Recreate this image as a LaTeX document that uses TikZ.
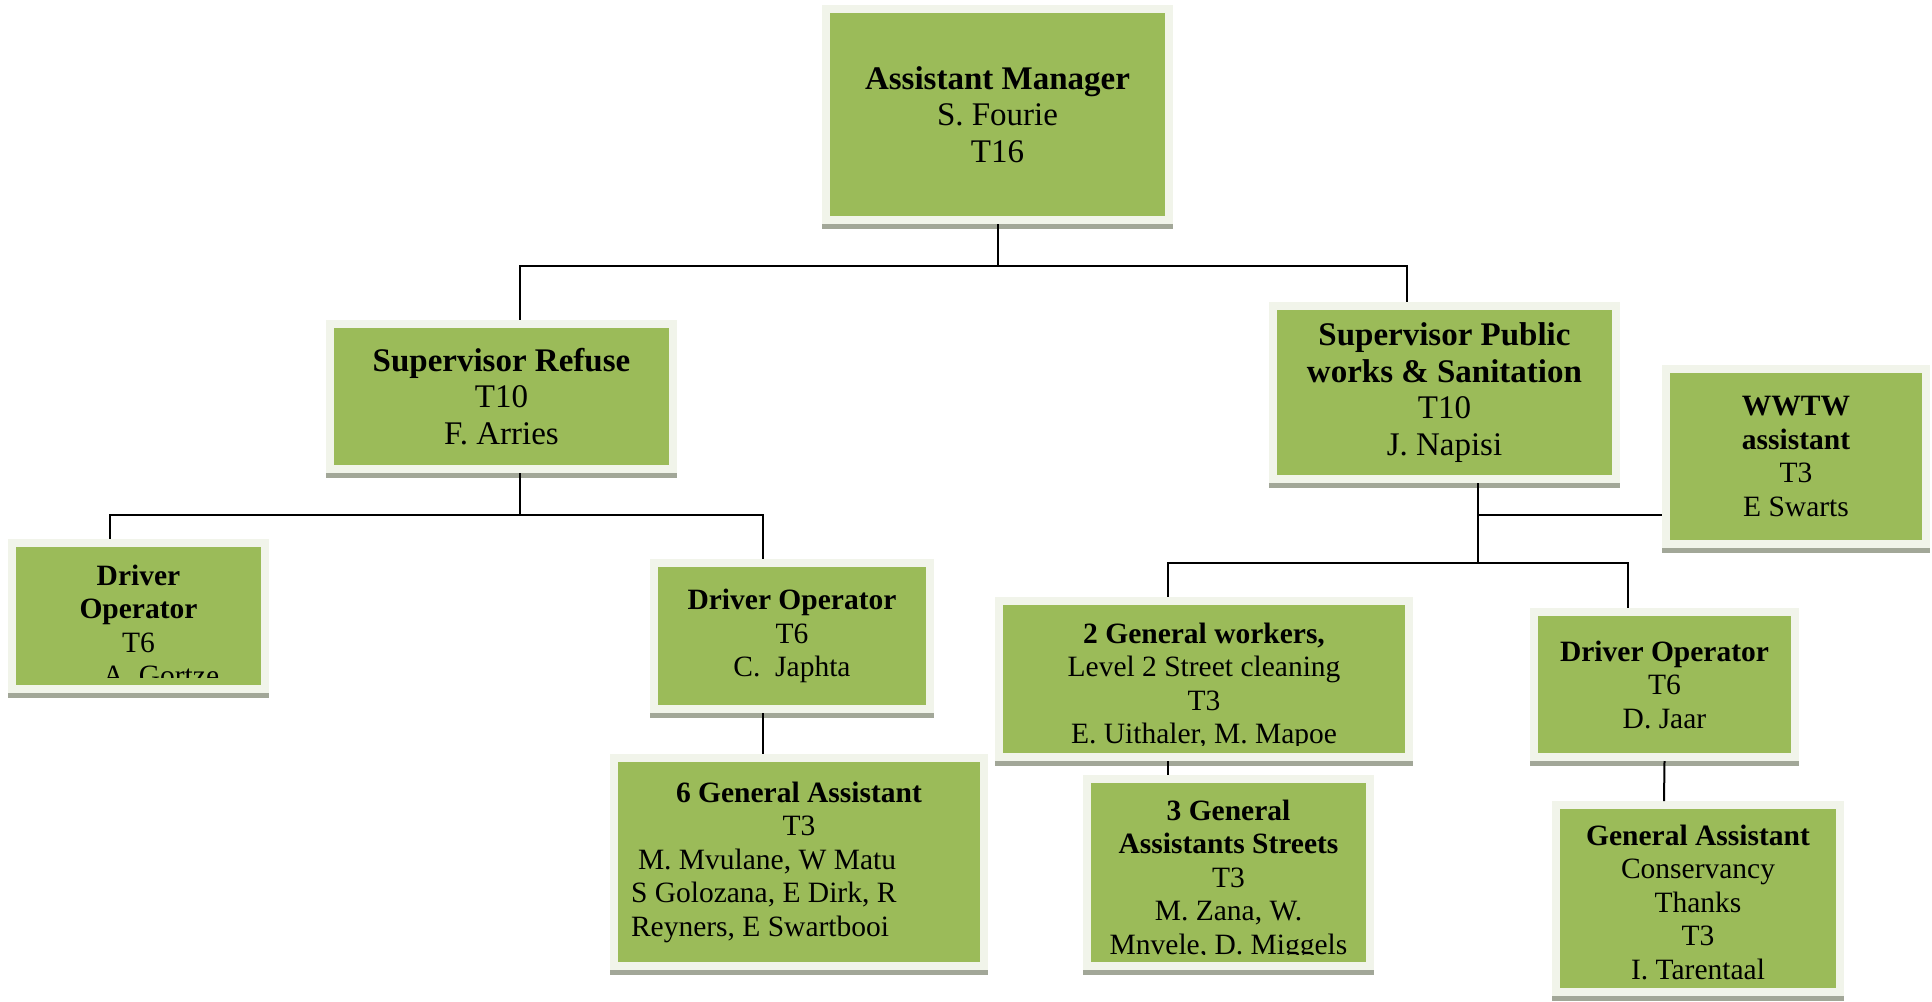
\documentclass[tikz,border=0pt]{standalone}
\usepackage{fontspec}
\setmainfont{Liberation Serif}
\usetikzlibrary{positioning}

\definecolor{boxgreen}{RGB}{155,187,89}
\definecolor{boxframe}{RGB}{241,244,234}
\definecolor{boxshadow}{RGB}{162,167,152}

\tikzset{
    orgbox/.style={rectangle, fill=boxgreen, draw=boxframe, line width=8pt, outer sep=4pt,
        inner sep=0pt, align=center, text=black, font=\fontsize{29.5}{33.5}\selectfont,
        preaction={draw=boxshadow, line width=8pt, transform canvas={yshift=-5pt}}},
    bigbox/.style={orgbox, font=\fontsize{33}{36.5}\selectfont},
    cliptext/.style={anchor=north, inner sep=0pt, outer sep=0pt, minimum width=0pt,
        minimum height=0pt, align=center, text=black, font=\fontsize{29.5}{33.5}\selectfont}
}

\begin{document}
\begin{tikzpicture}[x=1pt, y=-1pt, node distance=100pt, line width=2pt]
    \useasboundingbox (0,0) rectangle (1932,1001);

    \node(am) [bigbox, minimum width=343pt, minimum height=211pt] at (997.5,114.5)
        {\textbf{Assistant Manager}\\S. Fourie\\T16};

    % Refuse
    \node(sr) [bigbox, minimum width=343pt, minimum height=145pt, below of=am, xshift=-496pt, yshift=-182pt]
        {\textbf{Supervisor Refuse}\\T10\\F. Arries};
    \node(doa) [orgbox, minimum width=253pt, minimum height=146pt, below of=sr, xshift=-363pt, yshift=-119.5pt,
        path picture={\clip ([yshift=12pt]path picture bounding box.south west) rectangle (path picture bounding box.north east);
            \node(doa-text) [cliptext] at ([yshift=-22pt]path picture bounding box.north)
                {\textbf{Driver}\\\textbf{Operator}\\T6\\\hspace*{45pt}A. Gortze};}] {};
    \node(doc) [orgbox, minimum width=276pt, minimum height=146pt, below of=sr, xshift=290.5pt, yshift=-139.5pt]
        {\textbf{Driver Operator}\\T6\\C.\ \ Japhta};
    \node(ga6) [orgbox, minimum width=370pt, minimum height=208pt, text width=336pt, align=flush left,
        below of=doc, xshift=7pt, yshift=-126pt]
        {\makebox[336pt]{\textbf{6 General Assistant}}\\\makebox[336pt]{T3}\\\hspace*{7pt}M. Mvulane, W Matu\\
        S Golozana, E Dirk, R\\Reyners, E Swartbooi};

    % Public works
    \node(sp) [bigbox, minimum width=343pt, minimum height=173pt, below of=am, xshift=447pt, yshift=-178pt]
        {\textbf{Supervisor Public}\\\textbf{works \& Sanitation}\\T10\\J. Napisi};
    \node(ww) [orgbox, minimum width=260pt, minimum height=175pt, right of=sp, xshift=251.5pt, yshift=-64pt]
        {\textbf{WWTW}\\\textbf{assistant}\\T3\\E Swarts};
    \node(gw2) [orgbox, minimum width=410pt, minimum height=156pt, below of=sp, xshift=-240.5pt, yshift=-186.5pt,
        path picture={\clip ([yshift=12pt]path picture bounding box.south west) rectangle (path picture bounding box.north east);
            \node(gw2-text) [cliptext] at ([yshift=-22pt]path picture bounding box.north)
                {\textbf{2 General workers,}\\Level 2 Street cleaning\\T3\\E. Uithaler, M. Mapoe};}] {};
    \node(ga3) [orgbox, minimum width=283pt, minimum height=187pt, below of=gw2, xshift=24.5pt, yshift=-93.5pt,
        path picture={\clip ([yshift=12pt]path picture bounding box.south west) rectangle (path picture bounding box.north east);
            \node(ga3-text) [cliptext] at ([yshift=-21pt]path picture bounding box.north)
                {\textbf{3 General}\\\textbf{Assistants Streets}\\T3\\M. Zana, W.\\Mnvele, D. Miggels};}] {};
    \node(dod) [orgbox, minimum width=261pt, minimum height=145pt, below of=sp, xshift=220pt, yshift=-192pt]
        {\textbf{Driver Operator}\\T6\\D. Jaar};
    \node(gac) [orgbox, minimum width=284pt, minimum height=187pt, below of=dod, xshift=33.5pt, yshift=-114pt,
        path picture={\clip ([yshift=12pt]path picture bounding box.south west) rectangle (path picture bounding box.north east);
            \node(gac-text) [cliptext] at ([yshift=-20pt]path picture bounding box.north)
                {\textbf{General Assistant}\\Conservancy\\Thanks\\T3\\I. Tarentaal};}] {};

    % Draw Lines
    \draw (am.south) -- ++(0,42) -| ([xshift=18.5pt]sr.north) (am.south) ++(0,42) -| ([xshift=-37.5pt]sp.north);

    \draw ([xshift=18.5pt]sr.south) -- ++(0,42) -| ([xshift=-28.5pt]doa.north)
        ([xshift=18.5pt]sr.south) ++(0,42) -| ([xshift=-29pt]doc.north);
    \draw ([xshift=-29pt]doc.south) -- ([xshift=-36pt]ga6.north);

    \draw ([xshift=33.5pt]sp.south) -- ++(0,80) -| ([xshift=-36pt]gw2.north)
        ([xshift=33.5pt]sp.south) ++(0,80) -| ([xshift=-36.5pt]dod.north);
    \draw ([xshift=33.5pt]sp.south) ++(0,32) -- ([yshift=-58.5pt]ww.west);
    \draw ([xshift=-36pt]gw2.south) -- ([xshift=-60.5pt]ga3.north);
    \draw (dod.south) -- ([xshift=-34pt]gac.north);

\end{tikzpicture}
\end{document}
